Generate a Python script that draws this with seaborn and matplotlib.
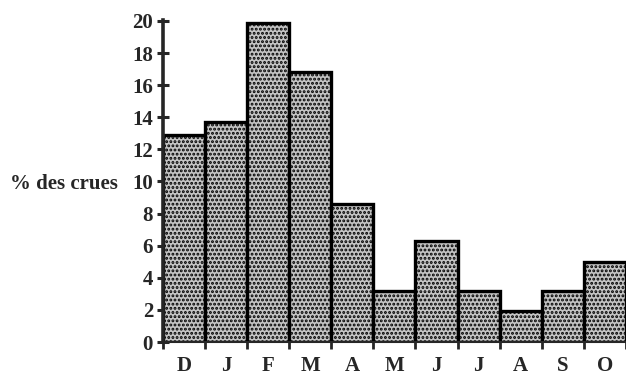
import numpy as np
import pandas as pd
import matplotlib
matplotlib.use("Agg")
from matplotlib import pyplot as plt
import seaborn as sns

# months (december to october) and share of floods (%)
months = ["D", "J", "F", "M", "A", "M", "J", "J", "A", "S", "O"]
crues = [12.9, 13.7, 19.9, 16.8, 8.6, 3.2, 6.3, 3.2, 1.9, 3.2, 5.0]
y_ticks = [0, 2, 4, 6, 8, 10, 12, 14, 16, 18, 20]

df = pd.DataFrame({"pos": [str(i) for i in range(len(months))], "crues": crues})

sns.set_style("white")
plt.rcParams["font.family"] = ["Liberation Serif", "DejaVu Serif"]
plt.rcParams["hatch.color"] = "#2a2a2a"
plt.rcParams["hatch.linewidth"] = 1.4

fig = plt.figure(figsize=(6.26, 3.8), dpi=100)
ax = fig.add_axes([0.26, 0.1, 0.74, 0.847])

sns.barplot(data=df, x="pos", y="crues", width=1.0, color="#c4c4c4",
            edgecolor="black", linewidth=2.4, ax=ax, saturation=1)
for p in ax.patches:
    p.set_hatch("....")
    p.set_edgecolor("black")

ax.set_xlim(-0.5, 10.37)
ax.set_ylim(0, 20.05)
ax.set_yticks(y_ticks)
ax.set_yticklabels([str(v) for v in y_ticks], fontsize=15, fontweight="bold")
ax.tick_params(axis="y", direction="inout", length=8, width=2.2, pad=3, left=True)

ax.set_xticks(range(len(months)))
ax.set_xticklabels(months, fontsize=15, fontweight="bold")
ax.tick_params(axis="x", which="major", length=0, pad=10)
ax.set_xticks(np.arange(-0.5, len(months), 1.0), minor=True)
ax.tick_params(axis="x", which="minor", direction="out", length=5, width=2, bottom=True)

ax.set_xlabel("")
ax.set_ylabel("")
for s in ["top", "right"]:
    ax.spines[s].set_visible(False)
ax.spines["left"].set_linewidth(2.6)
ax.spines["bottom"].set_linewidth(1.5)
ax.spines["left"].set_zorder(5)

fig.text(0.016, 0.517, "% des crues", fontsize=15, fontweight="bold",
         ha="left", va="center")

fig.savefig("out.png", dpi=100)
